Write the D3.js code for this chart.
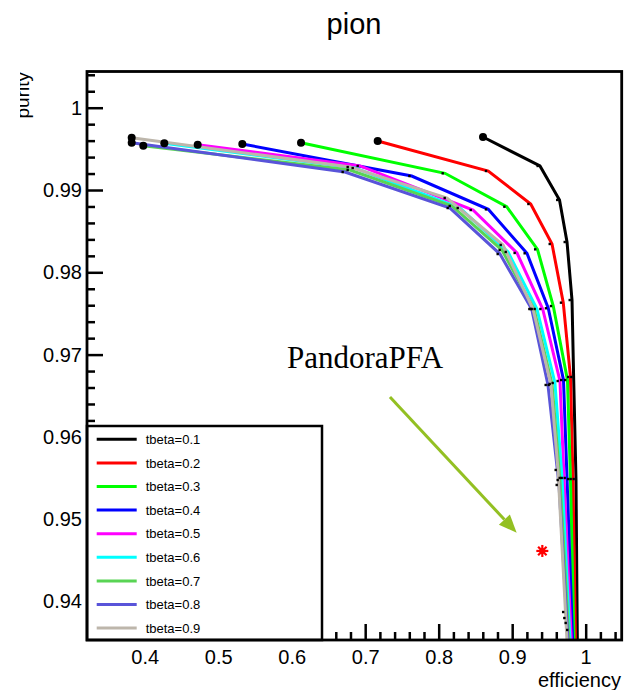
<!DOCTYPE html>
<html>
<head>
<meta charset="utf-8">
<script src="https://cdn.jsdelivr.net/npm/d3@7"></script>
<style>
  body { margin: 0; background: #fff; }
  svg { display: block; }
</style>
</head>
<body>
<svg id="chart" width="624" height="690"></svg>
<script>
// ---- data: purity vs efficiency for each tbeta cut ----
const tbetaLabels = ["tbeta=0.1", "tbeta=0.2", "tbeta=0.3", "tbeta=0.4", "tbeta=0.5",
                     "tbeta=0.6", "tbeta=0.7", "tbeta=0.8", "tbeta=0.9"];
const seriesColors = ["#000000", "#ff0000", "#00ff00", "#0000ff", "#ff00ff",
                      "#00ffff", "#59d454", "#5954d9", "#bdb6ab"];

const eff01 = [0.8603, 0.9378, 0.9644, 0.9746, 0.9814, 0.9836, 0.9868, 0.9893];
const pur01 = [0.99644, 0.99292, 0.98879, 0.98368, 0.97663, 0.96728, 0.95488, 0.92803];
const eff02 = [0.7170, 0.8675, 0.9252, 0.9542, 0.9695, 0.9793, 0.9827, 0.9873];
const pur02 = [0.99595, 0.99231, 0.98830, 0.98344, 0.97631, 0.96728, 0.95488, 0.92803];
const eff03 = [0.6127, 0.8086, 0.8925, 0.9344, 0.9559, 0.9752, 0.9793, 0.9859];
const pur03 = [0.99575, 0.99203, 0.98797, 0.98279, 0.97590, 0.96691, 0.95488, 0.92803];
const eff04 = [0.5328, 0.7633, 0.8675, 0.9201, 0.9491, 0.9698, 0.9746, 0.9850];
const pur04 = [0.99559, 0.99170, 0.98765, 0.98231, 0.97563, 0.96691, 0.95501, 0.92803];
const eff05 = [0.4721, 0.6929, 0.8467, 0.9065, 0.9415, 0.9650, 0.9705, 0.9841];
const pur05 = [0.99550, 0.99292, 0.98757, 0.98235, 0.97554, 0.96679, 0.95501, 0.92803];
const eff06 = [0.4267, 0.6861, 0.8290, 0.8943, 0.9337, 0.9582, 0.9678, 0.9780, 0.9827];
const pur06 = [0.99567, 0.99267, 0.98781, 0.98247, 0.97554, 0.96655, 0.95501, 0.93654, 0.92803];
const eff07 = [0.3981, 0.6793, 0.8181, 0.8861, 0.9297, 0.9542, 0.9650, 0.9759, 0.9819];
const pur07 = [0.99538, 0.99243, 0.98806, 0.98271, 0.97554, 0.96643, 0.95476, 0.93739, 0.92803];
const eff08 = [0.3823, 0.6725, 0.8154, 0.8834, 0.9265, 0.9487, 0.9637, 0.9741, 0.9807];
const pur08 = [0.99575, 0.99219, 0.98781, 0.98222, 0.97554, 0.96631, 0.95416, 0.93799, 0.92803];
const eff09 = [0.3823, 0.6793, 0.8113, 0.8875, 0.9283, 0.9528, 0.9623, 0.9725, 0.9789];
const pur09 = [0.99636, 0.99279, 0.98903, 0.98332, 0.97554, 0.96631, 0.95598, 0.93872, 0.92803];

const effSeries = [eff01, eff02, eff03, eff04, eff05, eff06, eff07, eff08, eff09];
const purSeries = [pur01, pur02, pur03, pur04, pur05, pur06, pur07, pur08, pur09];

// PandoraPFA reference point and the annotation arrow pointing at it
const pandoraPoint = [0.9410, 0.94614];
const arrowFrom = [0.7337, 0.96485];
const arrowTo = [0.9061, 0.94836];

// axis ticks
const xTickValues = [0.4, 0.5, 0.6, 0.7, 0.8, 0.9, 1.0];
const xTickLabels = ["0.4", "0.5", "0.6", "0.7", "0.8", "0.9", "1"];
const yTickValues = [0.94, 0.95, 0.96, 0.97, 0.98, 0.99, 1.0];
const yTickLabels = ["0.94", "0.95", "0.96", "0.97", "0.98", "0.99", "1"];

// ---- layout ----
const frame = { left: 87, right: 621.7, top: 71.5, bottom: 640 };
const sans = "'Liberation Sans', Arial, Helvetica, sans-serif";
const serif = "'Liberation Serif', 'Times New Roman', serif";

const x = d3.scaleLinear().domain([0.3215, 1.049]).range([frame.left, frame.right]);
const y = d3.scaleLinear().domain([0.93532, 1.0044]).range([frame.bottom, frame.top]);

const svg = d3.select("#chart");
const defs = svg.append("defs");
defs.append("clipPath").attr("id", "plotArea").append("rect")
  .attr("x", frame.left).attr("y", frame.top)
  .attr("width", frame.right - frame.left).attr("height", frame.bottom - frame.top);
defs.append("clipPath").attr("id", "yTitleClip").append("rect")
  .attr("x", 20).attr("y", 0).attr("width", 60).attr("height", 200);

// title
svg.append("text")
  .attr("x", 354).attr("y", 34)
  .attr("text-anchor", "middle")
  .style("font-family", sans).style("font-size", "29px")
  .text("pion");

// ---- minor / major ticks (pointing inward) ----
const xMinor = d3.range(0.34, 1.045, 0.02).filter(v => Math.abs(v * 10 - Math.round(v * 10)) > 1e-6);
const yMinor = d3.range(0.936, 1.0043, 0.002).filter(v => Math.abs(v * 100 - Math.round(v * 100)) > 1e-6);

const xAxisMinor = svg.append("g")
  .attr("transform", `translate(0,${frame.bottom})`)
  .call(d3.axisBottom(x).tickValues(xMinor).tickSize(-8).tickFormat(""));
const xAxisMajor = svg.append("g")
  .attr("transform", `translate(0,${frame.bottom})`)
  .call(d3.axisBottom(x).tickValues(xTickValues).tickSize(-16).tickPadding(10)
    .tickFormat((d, i) => xTickLabels[i]));
const yAxisMinor = svg.append("g")
  .attr("transform", `translate(${frame.left},0)`)
  .call(d3.axisLeft(y).tickValues(yMinor).tickSize(-8).tickFormat(""));
const yAxisMajor = svg.append("g")
  .attr("transform", `translate(${frame.left},0)`)
  .call(d3.axisLeft(y).tickValues(yTickValues).tickSize(-16).tickPadding(5)
    .tickFormat((d, i) => yTickLabels[i]));

[xAxisMinor, xAxisMajor, yAxisMinor, yAxisMajor].forEach(g => {
  g.select(".domain").remove();
  g.selectAll(".tick line").attr("stroke", "#000").attr("stroke-width", 2.5);
  g.selectAll(".tick text")
    .attr("fill", "#000")
    .style("font-family", sans).style("font-size", "20px");
});

// ---- curves ----
const lineGen = d3.line().x(d => x(d[0])).y(d => y(d[1]));
const curves = svg.append("g").attr("clip-path", "url(#plotArea)");
const seriesData = tbetaLabels.map((label, i) => ({
  label, color: seriesColors[i], points: d3.zip(effSeries[i], purSeries[i])
}));

seriesData.forEach(s => {
  curves.append("path")
    .attr("d", lineGen(s.points))
    .attr("fill", "none")
    .attr("stroke", s.color)
    .attr("stroke-width", 3)
    .attr("stroke-linejoin", "miter");
});

// point markers: a filled circle at the first point, small dots elsewhere
seriesData.forEach(s => {
  curves.selectAll(null).data(s.points.slice(1)).enter().append("rect")
    .attr("x", d => x(d[0]) - 3.5).attr("y", d => y(d[1]) - 1.2)
    .attr("width", 2.4).attr("height", 2.4).attr("fill", "#000");
  curves.append("circle")
    .attr("cx", x(s.points[0][0])).attr("cy", y(s.points[0][1]))
    .attr("r", 4).attr("fill", "#000");
});

// ---- PandoraPFA annotation ----
svg.append("text")
  .attr("x", 287).attr("y", 368)
  .style("font-family", serif).style("font-size", "31px")
  .text("PandoraPFA");

const ax0 = x(arrowFrom[0]), ay0 = y(arrowFrom[1]);
const ax1 = x(arrowTo[0]), ay1 = y(arrowTo[1]);
const ang = Math.atan2(ay1 - ay0, ax1 - ax0);
const headLen = 18, headHalf = 7.5;
const bx = ax1 - headLen * Math.cos(ang), by = ay1 - headLen * Math.sin(ang);
const arrowColor = "#93c022";
svg.append("line")
  .attr("x1", ax0).attr("y1", ay0).attr("x2", bx).attr("y2", by)
  .attr("stroke", arrowColor).attr("stroke-width", 3);
svg.append("polygon")
  .attr("points", [
    [ax1, ay1],
    [bx + headHalf * Math.sin(ang), by - headHalf * Math.cos(ang)],
    [bx - headHalf * Math.sin(ang), by + headHalf * Math.cos(ang)]
  ].map(p => p.join(",")).join(" "))
  .attr("fill", arrowColor);

// red asterisk marker for the PandoraPFA point
const px = x(pandoraPoint[0]), py = y(pandoraPoint[1]);
const star = svg.append("g").attr("transform", `translate(${px},${py})`);
[0, 45, 90, 135].forEach(a => {
  const r = 6, t = a * Math.PI / 180;
  star.append("line")
    .attr("x1", -r * Math.cos(t)).attr("y1", -r * Math.sin(t))
    .attr("x2", r * Math.cos(t)).attr("y2", r * Math.sin(t))
    .attr("stroke", "#ff0000").attr("stroke-width", 2.2);
});
star.append("circle").attr("r", 3).attr("fill", "#ff0000");

// ---- legend ----
const legend = svg.append("g");
legend.append("rect")
  .attr("x", frame.left).attr("y", 426)
  .attr("width", 322 - frame.left).attr("height", frame.bottom - 426)
  .attr("fill", "#fff").attr("stroke", "#000").attr("stroke-width", 2.5);
seriesData.forEach((s, i) => {
  const ry = 439.3 + i * 23.6;
  legend.append("line")
    .attr("x1", 96.7).attr("x2", 136.7).attr("y1", ry).attr("y2", ry)
    .attr("stroke", s.color).attr("stroke-width", 3);
  legend.append("text")
    .attr("x", 145.7).attr("y", ry).attr("dy", "0.36em")
    .style("font-family", sans).style("font-size", "13px")
    .text(s.label);
});

// ---- frame (top, right, and the axis lines) ----
svg.append("rect")
  .attr("x", frame.left).attr("y", frame.top)
  .attr("width", frame.right - frame.left).attr("height", frame.bottom - frame.top)
  .attr("fill", "none").attr("stroke", "#000").attr("stroke-width", 2.8);

// axis titles
svg.append("text")
  .attr("x", 621).attr("y", 687)
  .attr("text-anchor", "end")
  .style("font-family", sans).style("font-size", "20px")
  .text("efficiency");

svg.append("g").attr("clip-path", "url(#yTitleClip)")
  .append("text")
  .attr("transform", "translate(29,72) rotate(-90)")
  .attr("text-anchor", "end")
  .style("font-family", sans).style("font-size", "19px")
  .text("purity");
</script>
</body>
</html>
